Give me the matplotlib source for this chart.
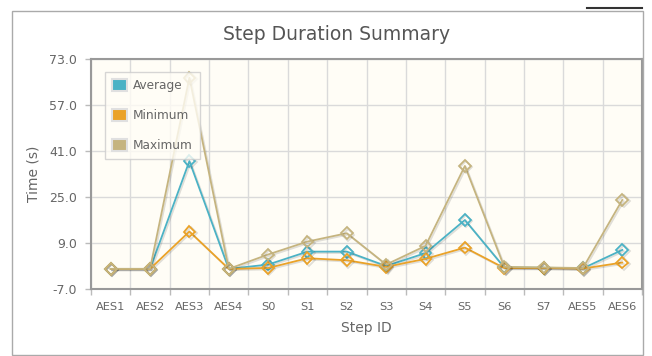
import matplotlib
matplotlib.use("Agg")
import matplotlib.pyplot as plt
import matplotlib.patheffects as pe
from matplotlib.patches import Rectangle, Patch
from matplotlib.lines import Line2D
import numpy as np

steps = ['AES1', 'AES2', 'AES3', 'AES4', 'S0', 'S1', 'S2', 'S3', 'S4', 'S5', 'S6', 'S7', 'AES5', 'AES6']
avg_vals = [0, 0, 37.5, 0, 1.5, 6.0, 6.0, 1.0, 5.5, 17.0, 0.5, 0.4, 0.2, 6.6]
min_vals = [0, 0, 13.0, 0, 0.3, 3.7, 3.0, 0.7, 3.5, 7.4, 0.3, 0.3, 0.1, 2.2]
max_vals = [0, 0, 66.5, 0, 5.0, 9.5, 12.4, 1.5, 8.0, 35.8, 0.7, 0.5, 0.3, 24.0]
series_names = ['Average', 'Minimum', 'Maximum']
y_ticks = [-7.0, 9.0, 25.0, 41.0, 57.0, 73.0]

colors = ['#4bb2c5', '#EAA228', '#c5b47f']
W, H = 652, 356
fig = plt.figure(figsize=(W / 100, H / 100), dpi=100)
fig.patch.set_facecolor('white')

def fx(px):
    return px / W

def fy(py):
    return 1 - py / H

# outer border
fig.add_artist(Rectangle((fx(12), fy(355)), fx(643) - fx(12), fy(11) - fy(355),
                         transform=fig.transFigure, fill=False, edgecolor='#aaaaaa', lw=1.0))
fig.add_artist(Line2D([fx(587), fx(642)], [fy(8), fy(8)], transform=fig.transFigure,
                      color='#333333', lw=1.5))

left, right, top, bottom = 91, 642, 59, 289
ax = fig.add_axes([fx(left), fy(bottom), fx(right) - fx(left), fy(top) - fy(bottom)])
ax.set_facecolor('#fffdf6')

x = np.arange(len(steps))
shadow = [pe.SimpleLineShadow(offset=(1, -1), alpha=0.12, shadow_color='black'), pe.Normal()]
for vals, c, name in zip([avg_vals, min_vals, max_vals], colors, series_names):
    ax.plot(x, vals, color=c, lw=1.3, marker='D', ms=6, mfc='none', mec=c, mew=1.3,
            label=name, path_effects=shadow, zorder=3)

ax.set_xlim(-0.5, len(steps) - 0.5)
ax.set_ylim(-7, 73)
ax.set_yticks(y_ticks)
ax.set_yticklabels([f'{v:.1f}' for v in y_ticks])
ax.set_xticks(x)
ax.set_xticklabels(steps)
ax.set_xticks(np.arange(len(steps) + 1) - 0.5, minor=True)
ax.tick_params(axis='x', which='major', length=0, pad=9, labelsize=8.2, labelcolor='#666666')
ax.tick_params(axis='x', which='minor', length=4, color='#bbbbbb', width=1)
ax.tick_params(axis='y', which='major', length=4, color='#bbbbbb', width=1, pad=6,
               labelsize=9, labelcolor='#666666')
ax.grid(True, which='minor', axis='x', color='#dadada', lw=1)
ax.grid(True, which='major', axis='y', color='#dadada', lw=1)
ax.set_axisbelow(True)
for s in ax.spines.values():
    s.set_color('#999999')
    s.set_linewidth(1.5)

ax.set_xlabel('Step ID', fontsize=10, color='#666666', labelpad=7)
ax.set_ylabel('Time (s)', fontsize=10, color='#666666', labelpad=6)

fig.text(fx(337), fy(35), 'Step Duration Summary', ha='center', va='center',
         fontsize=13.5, color='#555555')

handles = [Patch(facecolor=c, edgecolor='#e0e0e0', lw=1.5) for c in colors]
leg = fig.legend(handles, series_names, loc='upper left',
                 bbox_to_anchor=(fx(105), fy(72)), bbox_transform=fig.transFigure,
                 borderaxespad=0, frameon=True, fancybox=False, fontsize=8.7,
                 labelcolor='#666666', handlelength=1.25, handleheight=1.1,
                 handletextpad=0.45, labelspacing=1.4, borderpad=0.6)
leg.get_frame().set_edgecolor('#cccccc')
leg.get_frame().set_facecolor('#fffdf6')
leg.get_frame().set_linewidth(1)

fig.savefig('out.png', dpi=100)
